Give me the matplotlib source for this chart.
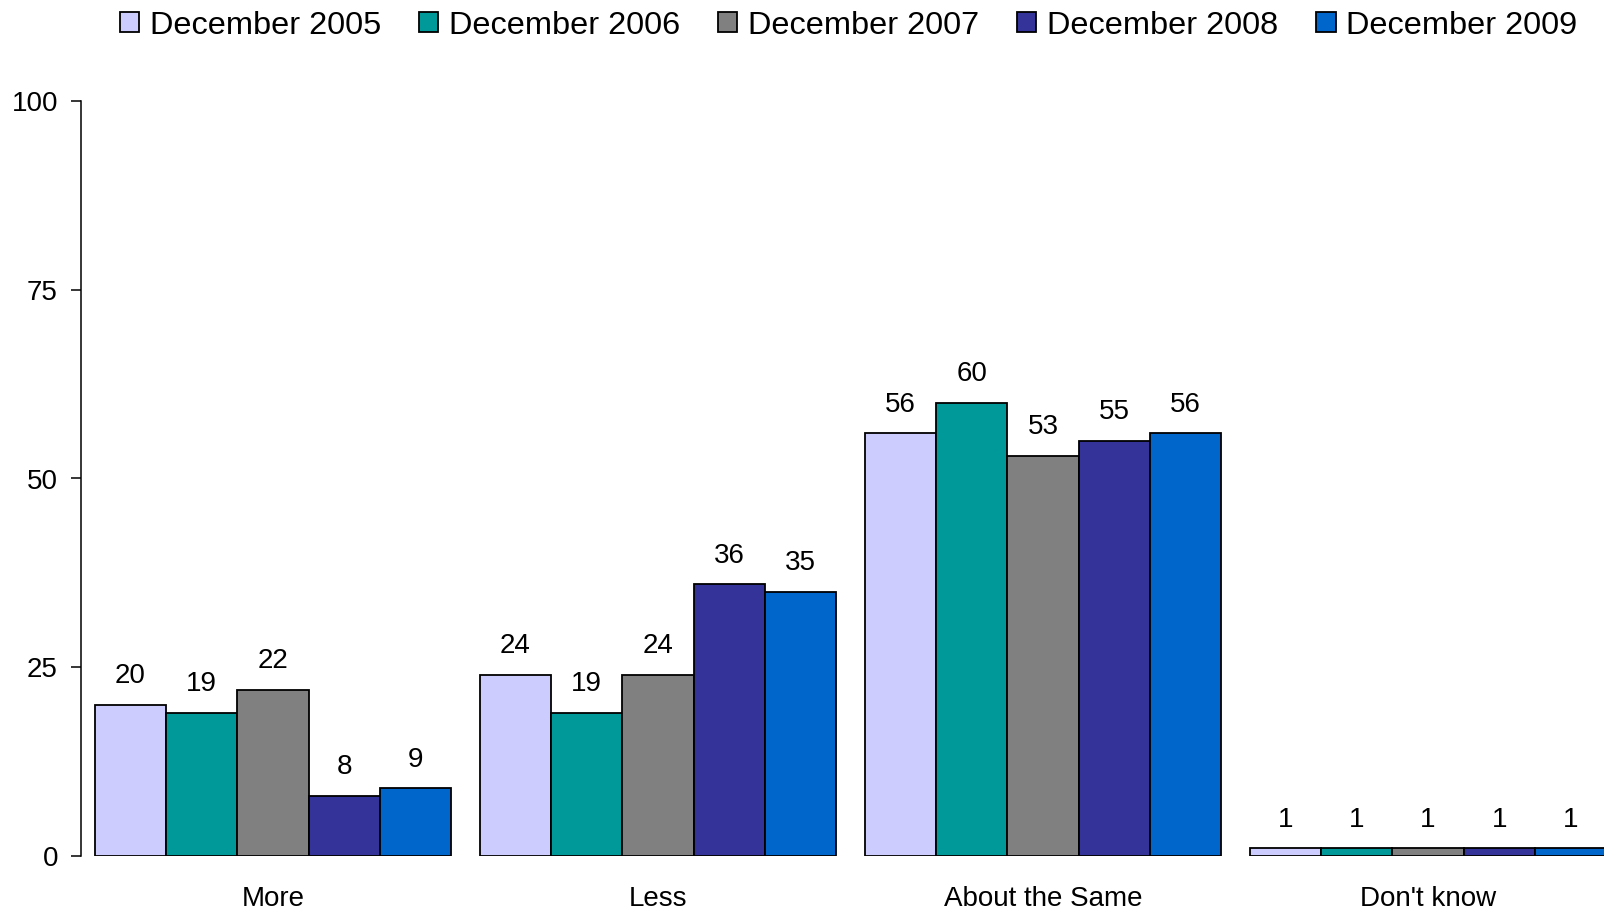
import matplotlib
matplotlib.use("Agg")
import matplotlib.pyplot as plt
from matplotlib.patches import Patch
import numpy as np

plt.rcParams['font.family'] = ['Liberation Sans', 'DejaVu Sans']

categories = ["More", "Less", "About the Same", "Don't know"]
series_names = ["December 2005", "December 2006", "December 2007", "December 2008", "December 2009"]
dec2005 = [20, 24, 56, 1]
dec2006 = [19, 19, 60, 1]
dec2007 = [22, 24, 53, 1]
dec2008 = [8, 36, 55, 1]
dec2009 = [9, 35, 56, 1]
series_values = [dec2005, dec2006, dec2007, dec2008, dec2009]
colors = ["#CCCCFF", "#009999", "#808080", "#333399", "#0066CC"]
yticks = [0, 25, 50, 75, 100]

fig = plt.figure(figsize=(16.04, 9.13), dpi=100)
ax = fig.add_axes([80.5/1604, 57/913, 1540/1604, 755/913])

x = np.arange(len(categories))
group_w = 0.927
bw = group_w / len(series_values)
for i, (vals, col) in enumerate(zip(series_values, colors)):
    pos = x - group_w/2 + bw*(i + 0.5)
    ax.bar(pos, vals, width=bw, color=col, edgecolor="black", linewidth=1.3, zorder=3)
    for p, v in zip(pos, vals):
        ax.annotate(str(v), (p, v), xytext=(0, 15.5), textcoords="offset points",
                    ha="center", va="baseline", fontsize=20, color="black")

ax.set_xlim(-0.5, 3.5)
ax.set_ylim(0, 100)
ax.set_yticks(yticks)
ax.set_yticklabels([str(t) for t in yticks])
ax.set_xticks(x)
ax.set_xticklabels(categories)
ax.tick_params(axis="y", length=7.2, width=1.1, pad=9, labelsize=20, direction="out")
ax.tick_params(axis="x", length=0, pad=21.5, labelsize=20)
for s in ["top", "right", "bottom"]:
    ax.spines[s].set_visible(False)
ax.spines["left"].set_linewidth(1.1)

handles = [Patch(facecolor=c, edgecolor="black", linewidth=1.3) for c in colors]
fig.legend(handles, series_names, loc="center", bbox_to_anchor=(0.529, 1 - 25.5/913),
           ncol=5, frameon=False, fontsize=23.4, handlelength=0.6, handleheight=0.6,
           handletextpad=0.33, columnspacing=1.16, borderpad=0, borderaxespad=0)

fig.savefig("out.png", dpi=100)
